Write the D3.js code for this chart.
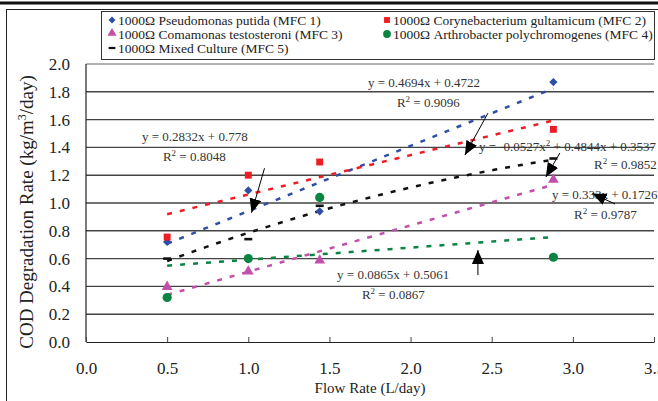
<!DOCTYPE html>
<html>
<head>
<meta charset="utf-8">
<script src="https://cdn.jsdelivr.net/npm/d3@7"></script>
<style>
  body { margin: 0; background: #fff; }
  text { font-family: "Liberation Serif", "Times New Roman", serif; }
</style>
</head>
<body>
<svg width="658" height="401"></svg>
<script>
// values
var flowRates = [0.5, 1.0, 1.44, 2.88];
var mfc1 = [0.72, 1.09, 0.94, 1.87];
var mfc2 = [0.755, 1.20, 1.295, 1.53];
var mfc3 = [0.39, 0.50, 0.58, 1.16];
var mfc4 = [0.32, 0.60, 1.04, 0.61];
var mfc5 = [0.60, 0.74, 0.98, 1.32];

var seriesNames = [
  '1000Ω Pseudomonas putida (MFC 1)',
  '1000Ω Corynebacterium gultamicum (MFC 2)',
  '1000Ω Comamonas testosteroni (MFC 3)',
  '1000Ω Arthrobacter polychromogenes (MFC 4)',
  '1000Ω Mixed Culture (MFC 5)'
];

// trendline coefficients [x², x, const] as printed on the chart
var trend1 = [0, 0.4694, 0.4722];
var trend2 = [0, 0.2832, 0.778];
var trend3 = [0, 0.333, 0.1726];
var trend4 = [0, 0.0865, 0.5061];
var trend5 = [-0.0527, 0.4844, 0.3537];

var xTicks = [0, 0.5, 1.0, 1.5, 2.0, 2.5, 3.0, 3.5];
var yTicks = [0, 0.2, 0.4, 0.6, 0.8, 1.0, 1.2, 1.4, 1.6, 1.8, 2.0];

// equation labels: [text, superscript, rest, x, y] in data units
var eqLabels = [
  ['y = 0.4694x + 0.4722', '', '', 1.737, 1.835],
  ['R', '2', ' = 0.9096', 1.916, 1.69],
  ['y = 0.2832x + 0.778', '', '', 0.345, 1.446],
  ['R', '2', ' = 0.8048', 0.474, 1.302],
  ['y = -0.0527x', '2', ' + 0.4844x + 0.3537', 2.421, 1.374],
  ['R', '2', ' = 0.9852', 3.13, 1.245],
  ['y = 0.333x + 0.1726', '', '', 2.871, 1.029],
  ['R', '2', ' = 0.9787', 3.007, 0.885],
  ['y = 0.0865x + 0.5061', '', '', 1.547, 0.453],
  ['R', '2', ' = 0.0867', 1.70, 0.309]
];

// arrows [x0, y0, x1, y1] tail -> tip in data units
var arrows = [
  [1.10, 1.25, 1.02, 0.93],
  [2.477, 1.647, 2.335, 1.345],
  [2.92, 1.36, 2.834, 1.187],
  [3.26, 0.993, 3.12, 1.068],
  [2.415, 0.482, 2.415, 0.662]
];

var svg = d3.select('svg');

var x = d3.scaleLinear().domain([0, 3.5]).range([86, 654]);
var y = d3.scaleLinear().domain([0, 2.0]).range([342, 64]);

// page frame
svg.append('rect').attr('x', 0).attr('y', 1.5).attr('width', 658).attr('height', 3).attr('fill', '#111');
svg.append('rect').attr('x', 6.5).attr('y', 9.5).attr('width', 660).attr('height', 400)
  .attr('fill', 'none').attr('stroke', '#222').attr('stroke-width', 1);

// gridlines
svg.append('g').selectAll('line')
  .data(yTicks.filter(function(d) { return d > 0; }))
  .enter().append('line')
  .attr('x1', x(0)).attr('x2', x(3.5))
  .attr('y1', function(d) { return y(d); })
  .attr('y2', function(d) { return y(d); })
  .attr('stroke', function(d) { return d === 2.0 ? '#999' : '#444'; })
  .attr('stroke-width', 1.4);

svg.append('line')
  .attr('x1', x(0)).attr('x2', x(0)).attr('y1', y(2.0)).attr('y2', y(0))
  .attr('stroke', '#222').attr('stroke-width', 1.2);

var xAxis = svg.append('g')
  .attr('transform', 'translate(0,' + y(0) + ')')
  .call(d3.axisBottom(x).tickValues(xTicks).tickFormat(d3.format('.1f'))
    .tickSizeInner(-5).tickSizeOuter(0).tickPadding(20));
xAxis.select('.domain').attr('stroke', '#222').attr('stroke-width', 1.2);
xAxis.selectAll('.tick line').attr('stroke', '#444');
xAxis.selectAll('text').attr('font-size', 17).attr('fill', '#222')
  .attr('font-family', '"Liberation Serif", serif');

var yAxis = svg.append('g')
  .attr('transform', 'translate(' + x(0) + ',0)')
  .call(d3.axisLeft(y).tickValues(yTicks).tickFormat(d3.format('.1f'))
    .tickSizeInner(0).tickSizeOuter(0).tickPadding(16));
yAxis.select('.domain').remove();
yAxis.selectAll('text').attr('font-size', 17).attr('fill', '#222')
  .attr('font-family', '"Liberation Serif", serif');

svg.append('text')
  .attr('x', 370).attr('y', 393)
  .attr('text-anchor', 'middle')
  .attr('font-size', 15).attr('fill', '#222')
  .text('Flow Rate (L/day)');

var yt = svg.append('text')
  .attr('transform', 'translate(33,212) rotate(-90)')
  .attr('text-anchor', 'middle')
  .attr('font-size', 19).attr('fill', '#222');
yt.append('tspan').text('COD Degradation Rate (kg/m');
yt.append('tspan').attr('font-size', 12).attr('baseline-shift', '60%').text('3');
yt.append('tspan').text('/day)');

// series
var series = [
  {vals: mfc1, coef: trend1, color: '#2f4fa6', shape: 'diamond'},
  {vals: mfc2, coef: trend2, color: '#ee1c25', shape: 'square'},
  {vals: mfc3, coef: trend3, color: '#c24fa9', shape: 'triangle'},
  {vals: mfc4, coef: trend4, color: '#0a8441', shape: 'circle'},
  {vals: mfc5, coef: trend5, color: '#111', shape: 'dash'}
];

var line = d3.line()
  .x(function(d) { return x(d[0]); })
  .y(function(d) { return y(d[1]); });

series.forEach(function(s) {
  var pts = d3.range(0, 41).map(function(i) {
    var xv = 0.5 + (2.88 - 0.5) * i / 40;
    return [xv, s.coef[0] * xv * xv + s.coef[1] * xv + s.coef[2]];
  });
  svg.append('path')
    .datum(pts)
    .attr('d', line)
    .attr('fill', 'none')
    .attr('stroke', s.color)
    .attr('stroke-width', 2.5)
    .attr('stroke-dasharray', '5,8');
});

function drawMarker(g, shape, color) {
  if (shape === 'diamond') {
    g.append('path').attr('d', d3.symbol(d3.symbolSquare, 34)())
      .attr('transform', 'rotate(45)').attr('fill', color);
  } else if (shape === 'square') {
    g.append('path').attr('d', d3.symbol(d3.symbolSquare, 48)()).attr('fill', color);
  } else if (shape === 'triangle') {
    g.append('path').attr('d', d3.symbol(d3.symbolTriangle, 50)())
      .attr('transform', 'translate(0,-1)').attr('fill', color);
  } else if (shape === 'circle') {
    g.append('path').attr('d', d3.symbol(d3.symbolCircle, 66)()).attr('fill', color);
  } else {
    g.append('rect').attr('x', -4).attr('y', -1.3).attr('width', 8).attr('height', 2.6).attr('fill', color);
  }
}

series.forEach(function(s) {
  s.vals.forEach(function(v, i) {
    var g = svg.append('g').attr('transform', 'translate(' + x(flowRates[i]) + ',' + y(v) + ')');
    drawMarker(g, s.shape, s.color);
  });
});

// equation labels
eqLabels.forEach(function(e) {
  var t = svg.append('text')
    .attr('x', x(e[3])).attr('y', y(e[4]))
    .attr('font-size', 13).attr('fill', '#333');
  t.append('tspan').text(e[0]);
  if (e[1]) {
    t.append('tspan').attr('font-size', 9).attr('baseline-shift', '55%').text(e[1]);
    t.append('tspan').text(e[2]);
  }
});

// arrows
svg.append('defs').append('marker')
  .attr('id', 'ah')
  .attr('viewBox', '0 0 14 12')
  .attr('refX', 14).attr('refY', 6)
  .attr('markerWidth', 14).attr('markerHeight', 12)
  .attr('markerUnits', 'userSpaceOnUse')
  .attr('orient', 'auto')
  .append('path').attr('d', 'M0,0L14,6L0,12Z').attr('fill', '#000');

arrows.forEach(function(a) {
  svg.append('line')
    .attr('x1', x(a[0])).attr('y1', y(a[1]))
    .attr('x2', x(a[2])).attr('y2', y(a[3]))
    .attr('stroke', '#000').attr('stroke-width', 1)
    .attr('marker-end', 'url(#ah)');
});

// legend
var legend = svg.append('g');
legend.append('rect')
  .attr('x', 101.5).attr('y', 11.5).attr('width', 553).attr('height', 48)
  .attr('fill', '#fff').attr('stroke', '#333').attr('stroke-width', 1);

var legendPos = [[112, 20], [387, 20], [112, 34], [387, 34], [112, 48]];
series.forEach(function(s, i) {
  var p = legendPos[i];
  var g = legend.append('g').attr('transform', 'translate(' + p[0] + ',' + p[1] + ') scale(0.85)');
  drawMarker(g, s.shape, s.color);
  legend.append('text')
    .attr('x', p[0] + 6).attr('y', p[1] + 4.5)
    .attr('font-size', 13.5).attr('fill', '#222')
    .text(seriesNames[i]);
});
</script>
</body>
</html>
